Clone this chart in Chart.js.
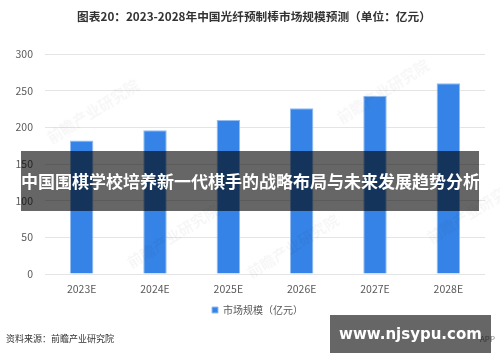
<!DOCTYPE html>
<html>
<head>
<meta charset="utf-8">
<script src="https://cdn.jsdelivr.net/npm/chart.js@4/dist/chart.umd.min.js"></script>
<style>
    html, body { margin: 0; padding: 0; background: #fff; }
    #wrap { position: relative; width: 500px; height: 362px; overflow: hidden; font-family: "Noto Sans CJK SC", "Noto Sans", sans-serif; }
    #wrap canvas { position: absolute; left: 0; top: 0; }
    .title { position: absolute; left: 4px; width: 500px; top: 7px; text-align: center; font-size: 11.7px; font-weight: bold; color: #333; }
    .source { position: absolute; left: 6px; top: 332px; font-size: 9px; color: #333; }
    .mark { position: absolute; font-size: 15px; font-weight: bold; color: rgba(0, 0, 0, 0.035); transform: rotate(-32deg); white-space: nowrap; }
    .banner { position: absolute; left: 21px; top: 151px; width: 458px; height: 60px; background: rgba(0, 0, 0, 0.6); color: #fff; font-size: 17px; font-weight: bold; line-height: 60px; text-align: center; white-space: nowrap; }
    .app { position: absolute; left: 480px; top: 333px; font-size: 8px; color: #888; }
    .site { position: absolute; left: 330px; top: 315px; width: 161px; height: 38px; background: rgba(0, 0, 0, 0.6); color: #fff; font-family: "DejaVu Sans", sans-serif; font-size: 15px; font-weight: bold; line-height: 38px; text-align: center; }
</style>
</head>
<body>
<div id="wrap">
    <canvas id="myChart" width="500" height="362"></canvas>
    <div class="title">图表20：2023-2028年中国光纤预制棒市场规模预测（单位：亿元）</div>
    <div class="mark" style="left: 40px; top: 100px;">前瞻产业研究院</div>
    <div class="mark" style="left: 120px; top: 225px;">前瞻产业研究院</div>
    <div class="mark" style="left: 330px; top: 80px;">前瞻产业研究院</div>
    <div class="mark" style="left: 240px; top: 235px;">前瞻产业研究院</div>
    <div class="mark" style="left: 420px; top: 200px;">前瞻产业研究院</div>
    <div class="banner">中国围棋学校培养新一代棋手的战略布局与未来发展趋势分析</div>
    <div class="source">资料来源：前瞻产业研究院</div>
    <div class="app">APP</div>
    <div class="site">www.njsypu.com</div>
</div>
<script>
var years = ["2023E", "2024E", "2025E", "2026E", "2027E", "2028E"];
var marketSize = [182, 196, 210, 226, 243, 260];
var yTicks = [0, 50, 100, 150, 200, 250, 300];

// nudge the legend to the right, like the original
var legendShift = {
    id: "legendShift",
    afterLayout: function (chart) {
        chart.legend.left += 15;
        chart.legend.right += 15;
    },
};

var ctx = document.getElementById("myChart");
new Chart(ctx, {
    type: "bar",
    data: {
        labels: years,
        datasets: [
            {
                label: "市场规模（亿元）",
                data: marketSize,
                backgroundColor: "#3583e6",
                borderColor: "#93bdf1",
                borderWidth: 1,
                barPercentage: 0.32,
                categoryPercentage: 1,
            },
        ],
    },
    plugins: [legendShift],
    options: {
        responsive: false,
        animation: false,
        layout: {
            padding: { left: 0, right: 15, top: 54, bottom: 37 },
        },
        plugins: {
            tooltip: { enabled: false },
            legend: {
                position: "bottom",
                labels: {
                    boxWidth: 6,
                    boxHeight: 6,
                    padding: 10,
                    color: "#595959",
                    font: { family: "Noto Sans CJK SC", size: 10 },
                },
            },
        },
        scales: {
            x: {
                grid: { display: false, drawTicks: false },
                border: { display: false },
                ticks: {
                    color: "#595959",
                    padding: 9,
                    font: { family: "Noto Sans CJK SC", size: 10.5 },
                },
                afterFit: function (scale) {
                    scale.height = 21;
                },
            },
            y: {
                min: 0,
                max: 300,
                afterBuildTicks: function (scale) {
                    scale.ticks = yTicks.map(function (v) {
                        return { value: v };
                    });
                },
                grid: { color: "#e4e4e4", drawTicks: false },
                border: { display: false },
                ticks: {
                    color: "#595959",
                    padding: 12,
                    font: { family: "Noto Sans CJK SC", size: 10.5 },
                },
                afterFit: function (scale) {
                    scale.width = 45;
                },
            },
        },
    },
});
</script>
</body>
</html>
